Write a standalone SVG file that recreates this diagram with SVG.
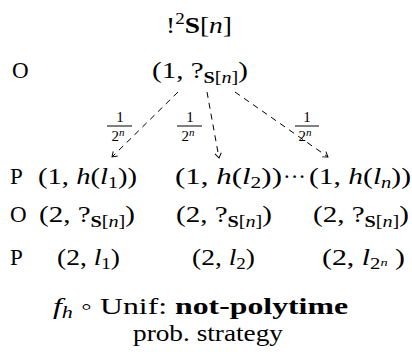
<svg xmlns="http://www.w3.org/2000/svg" width="412" height="358" viewBox="0 0 412 358">
<style>
text{font-family:"Liberation Serif","DejaVu Serif",serif;font-size:23px;fill:#000}
.i{font-style:italic}
.b{font-weight:bold}
.s{font-size:16px}
.f{font-size:15px}
.e{stroke:#000;stroke-width:1;stroke-dasharray:6,5;fill:none}
</style>
<defs>
<marker id="ah" viewBox="0 0 10 10" refX="9" refY="5" markerWidth="8" markerHeight="8" orient="auto" markerUnits="userSpaceOnUse">
<path d="M3,1 L9,5 L3,9" fill="none" stroke="#000" stroke-width="1.2"/>
</marker>
</defs>
<rect width="412" height="358" fill="#fff"/>
<g id="title"><text x="166" y="33" textLength="66" lengthAdjust="spacingAndGlyphs">!<tspan class="s" dy="-9">2</tspan><tspan class="b" dy="9">S</tspan>[<tspan class="i">n</tspan>]</text></g>
<g id="labelO1"><text x="12" y="78">O</text></g>
<g id="root"><text x="152" y="78" textLength="96" lengthAdjust="spacingAndGlyphs">(1, ?<tspan class="s b" dy="5">S</tspan><tspan class="s">[</tspan><tspan class="s i">n</tspan><tspan class="s">]</tspan><tspan dy="-5">)</tspan></text></g>
<g id="connectors">
<line class="e" x1="178" y1="92" x2="112" y2="157" marker-end="url(#ah)"/>
<line class="e" x1="207" y1="92" x2="219" y2="158" marker-end="url(#ah)"/>
<line class="e" x1="235" y1="92" x2="328" y2="157" marker-end="url(#ah)"/>
<g id="fr1"><text class="f" x="120" y="122" text-anchor="middle">1</text><line x1="107" y1="126" x2="132" y2="126" stroke="#000"/><text class="f" x="118" y="141" text-anchor="middle">2<tspan class="i" font-size="11" dy="-5">n</tspan></text></g>
<g id="fr2"><text class="f" x="190" y="122" text-anchor="middle">1</text><line x1="177" y1="126" x2="202" y2="126" stroke="#000"/><text class="f" x="188" y="141" text-anchor="middle">2<tspan class="i" font-size="11" dy="-5">n</tspan></text></g>
<g id="fr3"><text class="f" x="307" y="122" text-anchor="middle">1</text><line x1="295" y1="126" x2="319" y2="126" stroke="#000"/><text class="f" x="305" y="141" text-anchor="middle">2<tspan class="i" font-size="11" dy="-5">n</tspan></text></g>
</g>
<g id="labelP1"><text x="10" y="184">P</text></g>
<g id="n11"><text x="38" y="184" textLength="99" lengthAdjust="spacingAndGlyphs">(1, <tspan class="i">h</tspan>(<tspan class="i">l</tspan><tspan class="s" dy="4">1</tspan><tspan dy="-4">))</tspan></text></g>
<g id="n12"><text x="175" y="184" textLength="107" lengthAdjust="spacingAndGlyphs">(1, <tspan class="i">h</tspan>(<tspan class="i">l</tspan><tspan class="s" dy="4">2</tspan><tspan dy="-4">))</tspan></text><text x="283" y="184" textLength="23" lengthAdjust="spacingAndGlyphs">···</text></g>
<g id="n13"><text x="309" y="184" textLength="102" lengthAdjust="spacingAndGlyphs">(1, <tspan class="i">h</tspan>(<tspan class="i">l</tspan><tspan class="s i" dy="4">n</tspan><tspan dy="-4">))</tspan></text></g>
<g id="labelO2"><text x="10" y="222">O</text></g>
<g id="n21"><text x="39" y="222" textLength="96" lengthAdjust="spacingAndGlyphs">(2, ?<tspan class="s b" dy="5">S</tspan><tspan class="s">[</tspan><tspan class="s i">n</tspan><tspan class="s">]</tspan><tspan dy="-5">)</tspan></text></g>
<g id="n22"><text x="176" y="222" textLength="96" lengthAdjust="spacingAndGlyphs">(2, ?<tspan class="s b" dy="5">S</tspan><tspan class="s">[</tspan><tspan class="s i">n</tspan><tspan class="s">]</tspan><tspan dy="-5">)</tspan></text></g>
<g id="n23"><text x="313" y="222" textLength="96" lengthAdjust="spacingAndGlyphs">(2, ?<tspan class="s b" dy="5">S</tspan><tspan class="s">[</tspan><tspan class="s i">n</tspan><tspan class="s">]</tspan><tspan dy="-5">)</tspan></text></g>
<g id="labelP2"><text x="10" y="265">P</text></g>
<g id="n31"><text x="57" y="265" textLength="63" lengthAdjust="spacingAndGlyphs">(2, <tspan class="i">l</tspan><tspan class="s" dy="4">1</tspan><tspan dy="-4">)</tspan></text></g>
<g id="n32"><text x="192" y="265" textLength="63" lengthAdjust="spacingAndGlyphs">(2, <tspan class="i">l</tspan><tspan class="s" dy="4">2</tspan><tspan dy="-4">)</tspan></text></g>
<g id="n33"><text x="322" y="265" textLength="83" lengthAdjust="spacingAndGlyphs">(2, <tspan class="i">l</tspan><tspan class="s" dy="4">2</tspan><tspan class="i" font-size="11" dy="-3">n</tspan><tspan dy="-1"> )</tspan></text></g>
<g id="caption">
<text x="53" y="314" textLength="295" lengthAdjust="spacingAndGlyphs"><tspan class="i">f</tspan><tspan class="s i" dy="4">h</tspan><tspan dy="-4"> ◦ Unif:  </tspan><tspan class="b">not-polytime</tspan></text>
<text x="133" y="341" textLength="150" lengthAdjust="spacingAndGlyphs">prob.  strategy</text>
</g>
</svg>
